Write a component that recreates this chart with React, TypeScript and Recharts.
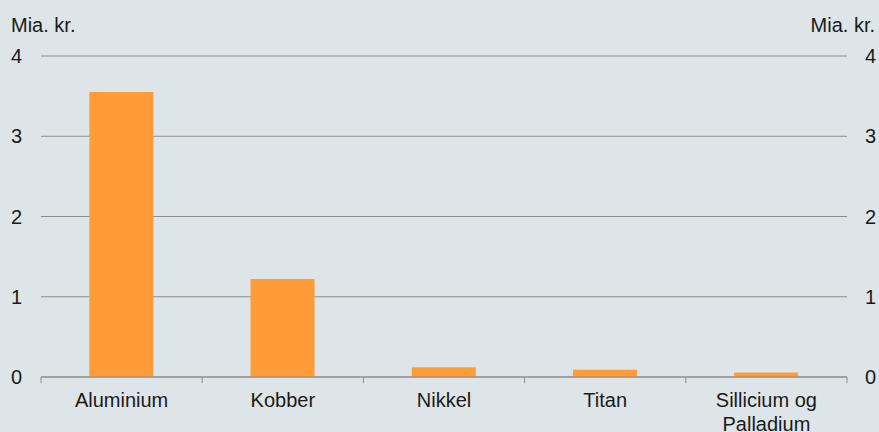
import { Bar, CartesianGrid, ComposedChart, Line, Text, XAxis, YAxis } from "recharts"

const metals = ["Aluminium", "Kobber", "Nikkel", "Titan", "Sillicium og Palladium"]
const values = [3.55, 1.22, 0.12, 0.09, 0.055]
const yTicks = [0, 1, 2, 3, 4]
const unitLabel = "Mia. kr."

const data = metals.map((name, i) => ({ name, value: values[i] }))

const W = 879
const H = 432
const LEFT_AXIS = 41
const RIGHT_AXIS = 32
const band = (W - LEFT_AXIS - RIGHT_AXIS) / metals.length

const FONT = "'Liberation Sans', Arial, sans-serif"
const TEXT = "#1a1a1a"
const GRID = "#8c8c8c"

// category label plus the little boundary ticks hanging under the axis line
function CategoryTick(props: any) {
  const { x, y, payload, index } = props
  const last = index === metals.length - 1
  return (
    <g>
      <line x1={x - band / 2} x2={x - band / 2} y1={y - 16} y2={y - 10} stroke={GRID} />
      {last && <line x1={x + band / 2} x2={x + band / 2} y1={y - 16} y2={y - 10} stroke={GRID} />}
      <Text
        x={x}
        y={y}
        width={150}
        textAnchor="middle"
        verticalAnchor="start"
        lineHeight="1.2em"
        fill={TEXT}
        style={{ fontSize: 20, fontFamily: FONT }}
      >
        {payload.value}
      </Text>
    </g>
  )
}

export default function App() {
  const tickStyle = { fontSize: 20, fontFamily: FONT, fill: TEXT }
  return (
    <div style={{ position: "relative", width: W, height: H, background: "#dde5e8", overflow: "hidden" }}>
      <style>{`body{margin:0}`}</style>
      <div style={{ position: "absolute", left: 11, top: 14, fontSize: 20, fontFamily: FONT, color: TEXT }}>{unitLabel}</div>
      <div style={{ position: "absolute", right: 4, top: 14, fontSize: 20, fontFamily: FONT, color: TEXT }}>{unitLabel}</div>
      <ComposedChart width={W} height={H} data={data} margin={{ top: 56, right: 0, bottom: 0, left: 0 }} barCategoryGap="30%">
        <CartesianGrid vertical={false} stroke={GRID} yAxisId="left" />
        <XAxis
          dataKey="name"
          height={55}
          axisLine={{ stroke: GRID }}
          tickLine={false}
          tickSize={0}
          tickMargin={16}
          interval={0}
          tick={<CategoryTick />}
        />
        <YAxis
          yAxisId="left"
          width={LEFT_AXIS}
          domain={[0, 4]}
          ticks={yTicks}
          axisLine={false}
          tickLine={false}
          tickSize={0}
          tickMargin={19}
          tick={tickStyle}
        />
        <YAxis
          yAxisId="right"
          orientation="right"
          width={RIGHT_AXIS}
          domain={[0, 4]}
          ticks={yTicks}
          axisLine={false}
          tickLine={false}
          tickSize={0}
          tickMargin={18}
          tick={tickStyle}
        />
        <Bar yAxisId="left" dataKey="value" fill="#ff9c38" isAnimationActive={false} />
        {/* invisible series so the mirrored right axis gets drawn */}
        <Line yAxisId="right" dataKey="value" stroke="none" dot={false} activeDot={false} legendType="none" isAnimationActive={false} />
      </ComposedChart>
    </div>
  )
}
